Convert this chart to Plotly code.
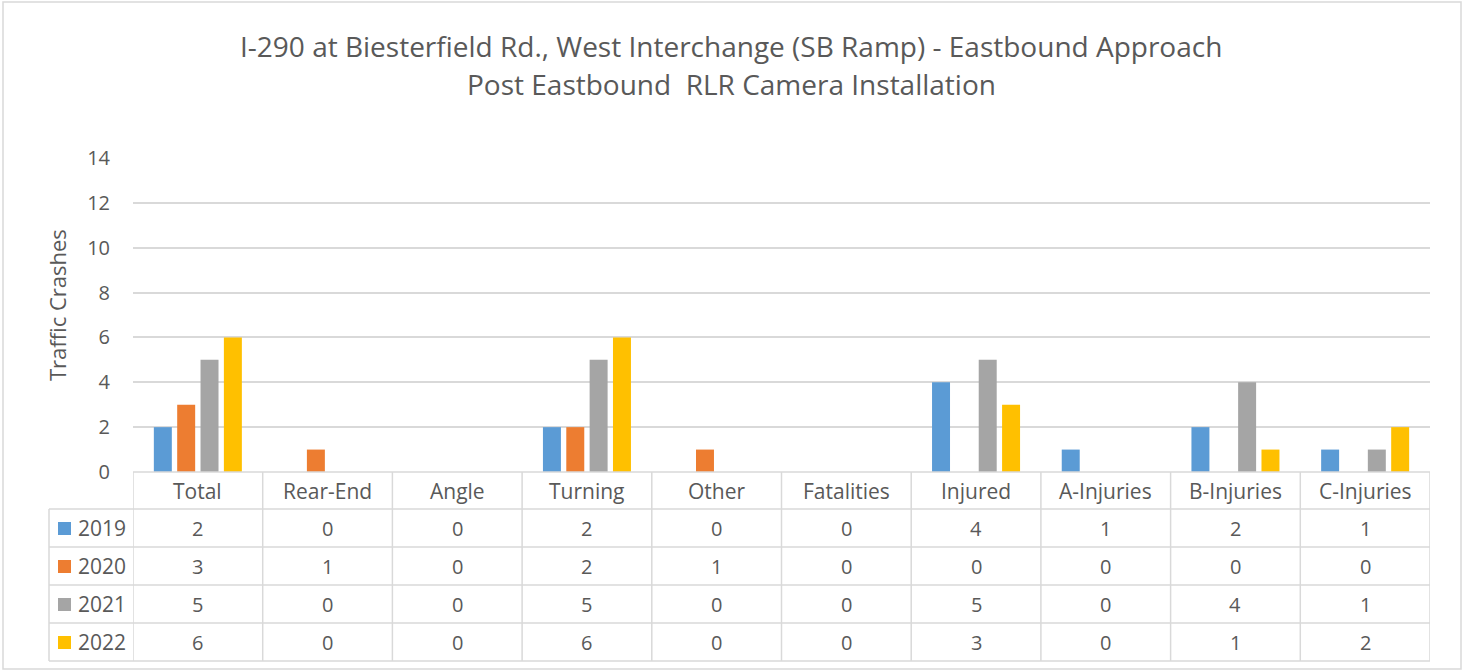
import plotly.graph_objects as go

categories = ["Total", "Rear-End", "Angle", "Turning", "Other", "Fatalities",
              "Injured", "A-Injuries", "B-Injuries", "C-Injuries"]
years = ["2019", "2020", "2021", "2022"]
crashes_2019 = [2, 0, 0, 2, 0, 0, 4, 1, 2, 1]
crashes_2020 = [3, 1, 0, 2, 1, 0, 0, 0, 0, 0]
crashes_2021 = [5, 0, 0, 5, 0, 0, 5, 0, 4, 1]
crashes_2022 = [6, 0, 0, 6, 0, 0, 3, 0, 1, 2]
series = [crashes_2019, crashes_2020, crashes_2021, crashes_2022]
colors = ["#5B9BD5", "#ED7D31", "#A5A5A5", "#FFC000"]

W, H = 1466, 670
FONT = "Open Sans"
TXT = "#595959"
GRID = "#D9D9D9"
SMALL = 20


def px(x):
    return x / W


def py(y):
    return 1 - y / H


fig = go.Figure()
for name, vals, col in zip(years, series, colors):
    fig.add_trace(go.Bar(x=list(range(len(categories))), y=vals, name=name,
                         marker=dict(color=col, line=dict(width=0))))

# plot area geometry (pixels)
x0, x1 = 133, 1430
y_top, y_bot = 158, 472
rows_y = [472, 509, 547, 585, 623, 661]
n = len(categories)

shapes = []
annotations = []


def label(x, y, text, xref="paper", size=SMALL, xanchor="center", angle=0):
    annotations.append(dict(x=x, y=y, xref=xref, yref="paper", text=text, showarrow=False,
                            xanchor=xanchor, yanchor="middle", textangle=angle,
                            font=dict(size=size, color=TXT, family=FONT)))


# table horizontal lines
shapes.append(dict(type="line", xref="paper", yref="paper", x0=px(x0), x1=px(x1),
                   y0=py(rows_y[0]), y1=py(rows_y[0]), line=dict(color=GRID, width=1.5)))
for yy in rows_y[1:]:
    shapes.append(dict(type="line", xref="paper", yref="paper", x0=px(49), x1=px(x1),
                       y0=py(yy), y1=py(yy), line=dict(color=GRID, width=1.5)))
# table vertical lines
for i in range(n + 1):
    shapes.append(dict(type="line", xref="x", yref="paper", x0=i - 0.5, x1=i - 0.5,
                       y0=py(rows_y[0]), y1=py(rows_y[-1]), line=dict(color=GRID, width=1.5)))
shapes.append(dict(type="line", xref="paper", yref="paper", x0=px(49), x1=px(49),
                   y0=py(rows_y[1]), y1=py(rows_y[-1]), line=dict(color=GRID, width=1.5)))
# outer chart border
shapes.append(dict(type="rect", xref="paper", yref="paper", x0=px(3), x1=px(1461),
                   y0=py(669), y1=py(2), line=dict(color=GRID, width=1.5)))

# header labels
for i, c in enumerate(categories):
    label(i, py((rows_y[0] + rows_y[1]) / 2), c, xref="x", size=21)
# data rows with legend keys
for r, (name, vals, col) in enumerate(zip(years, series, colors)):
    yc = (rows_y[r + 1] + rows_y[r + 2]) / 2
    for i, v in enumerate(vals):
        label(i, py(yc), str(v), xref="x")
    shapes.append(dict(type="rect", xref="paper", yref="paper", x0=px(58), x1=px(71),
                       y0=py(yc + 7), y1=py(yc - 6), fillcolor=col, line=dict(width=0)))
    label(px(76), py(yc), name, xanchor="left", size=21)

# title
label(px(731), py(46), "I-290 at Biesterfield Rd., West Interchange (SB Ramp) - Eastbound Approach", size=28)
label(px(731), py(84), "Post Eastbound  RLR Camera Installation", size=28)
# y axis title
label(px(57), py(305), "Traffic Crashes", size=22, angle=-90)

fig.update_layout(
    width=W, height=H, autosize=False,
    margin=dict(l=0, r=0, t=0, b=0, pad=0, autoexpand=False),
    paper_bgcolor="white", plot_bgcolor="white",
    showlegend=False,
    barmode="group", bargap=0.28, bargroupgap=0.23,
    font=dict(family=FONT, color=TXT),
    xaxis=dict(domain=[px(x0), px(x1)], range=[-0.5, n - 0.5], showticklabels=False,
               showgrid=False, zeroline=False, showline=False, fixedrange=True,
               automargin=False),
    yaxis=dict(domain=[py(y_bot), py(y_top)], range=[0, 14], dtick=2,
               showgrid=True, gridcolor=GRID, gridwidth=1.5, zeroline=False,
               showline=False, ticks="", ticklabelstandoff=22, automargin=False,
               tickfont=dict(size=SMALL, color=TXT, family=FONT)),
    shapes=shapes,
    annotations=annotations,
)

fig.write_html("out.html", config={"displayModeBar": False},
               post_script="document.body.style.margin='0';document.body.style.overflow='hidden';")
